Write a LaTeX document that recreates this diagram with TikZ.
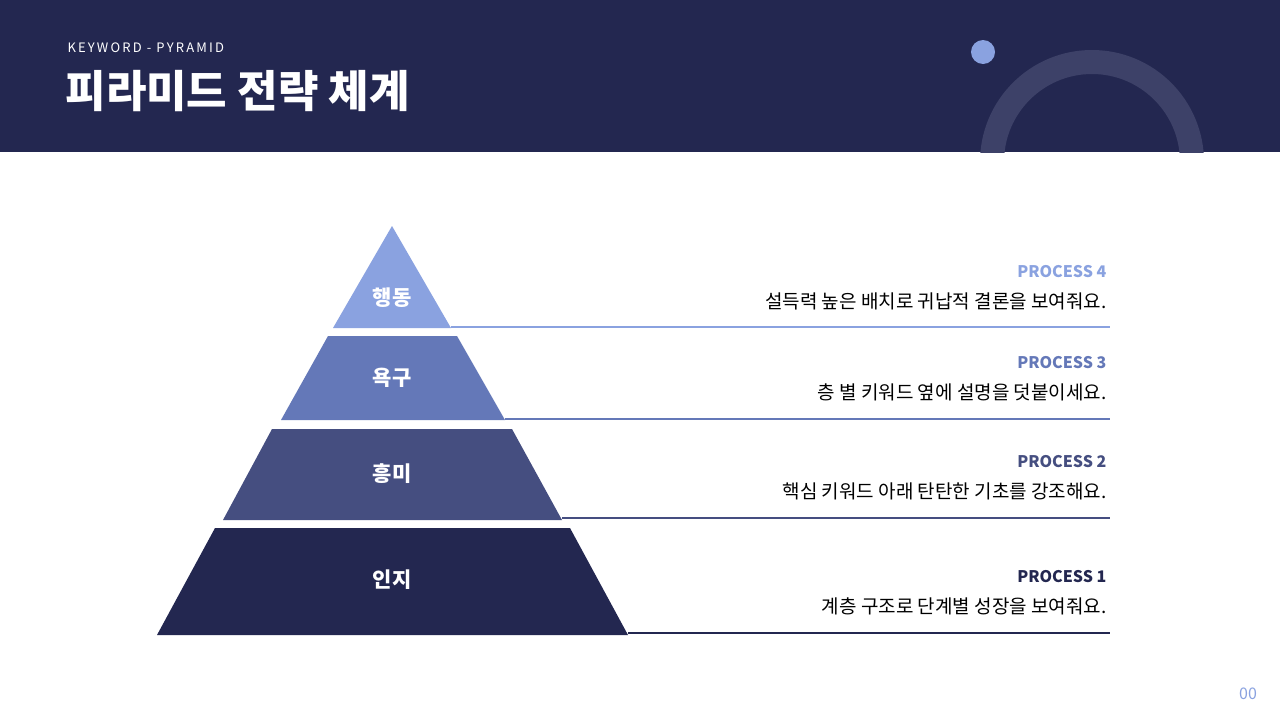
\documentclass[tikz,border=0pt]{standalone}
\usepackage{fontspec}
\setmainfont{Noto Sans CJK KR}
\definecolor{navy}{HTML}{232750}
\definecolor{tthree}{HTML}{454E80}
\definecolor{ttwo}{HTML}{6478B8}
\definecolor{tone}{HTML}{8AA2E0}
\definecolor{ring}{HTML}{3D4168}
\tikzset{tierlbl/.style={text=white,font=\fontsize{21}{24}\selectfont\bfseries},
proc/.style={anchor=east,font=\fontsize{16}{19}\selectfont\bfseries},
desc/.style={anchor=east,font=\fontsize{19}{22}\selectfont,text=black}}
\begin{document}
\begin{tikzpicture}[x=1pt,y=-1pt]
\useasboundingbox (0,0) rectangle (1280,720);
\fill[white] (0,0) rectangle (1280,720);
\fill[navy] (0,0) rectangle (1280,152);
\begin{scope}
\clip (0,0) rectangle (1280,152);
\draw[ring,line width=24pt] (1092,162) circle[radius=100];
\end{scope}
\fill[tone] (983,52) circle[radius=12];
\node[anchor=west,text=white,font=\fontsize{13}{15}\selectfont] (kw) at (64,48) {K\,E\,Y\,W\,O\,R\,D \,-\, P\,Y\,R\,A\,M\,I\,D};
\node[anchor=west,text=white,font=\fontsize{44}{50}\selectfont\bfseries] (title) at (62,91) {피라미드 전략 체계};
% tiers
\fill[tone] (392,226) -- (451,328) -- (333,328) -- cycle;
\fill[ttwo] (328,336) -- (457,336) -- (505,420) -- (281,420) -- cycle;
\fill[tthree] (272,429) -- (512,429) -- (562,520) -- (223,520) -- cycle;
\fill[navy] (215,528) -- (570,528) -- (628,635) -- (157,635) -- cycle;
\node[tierlbl] (t4) at (392,298) {행동};
\node[tierlbl] (t3) at (392,378) {욕구};
\node[tierlbl] (t2) at (392,474) {흥미};
\node[tierlbl] (t1) at (392,580) {인지};
\coordinate (a4) at (451,327); \coordinate (b4) at (1110,327);
\coordinate (a3) at (505,419); \coordinate (b3) at (1110,419);
\coordinate (a2) at (562,518); \coordinate (b2) at (1110,518);
\coordinate (a1) at (628,633); \coordinate (b1) at (1110,633);
\draw[tone,line width=2pt] (a4) -- (b4);
\draw[ttwo,line width=2pt] (a3) -- (b3);
\draw[tthree,line width=2pt] (a2) -- (b2);
\draw[navy,line width=2pt] (a1) -- (b1);
\node[proc,text=tone] (p4) at (1110,272) {PROCESS 4};
\node[desc] (d4) at (1110,301) {설득력 높은 배치로 귀납적 결론을 보여줘요.};
\node[proc,text=ttwo] (p3) at (1110,363) {PROCESS 3};
\node[desc] (d3) at (1110,392) {층 별 키워드 옆에 설명을 덧붙이세요.};
\node[proc,text=tthree] (p2) at (1110,462) {PROCESS 2};
\node[desc] (d2) at (1110,491) {핵심 키워드 아래 탄탄한 기초를 강조해요.};
\node[proc,text=navy] (p1) at (1110,577) {PROCESS 1};
\node[desc] (d1) at (1110,606) {계층 구조로 단계별 성장을 보여줘요.};
\node[text=tone,font=\fontsize{16}{19}\selectfont] (pg) at (1248,694) {00};
\end{tikzpicture}
\end{document}
